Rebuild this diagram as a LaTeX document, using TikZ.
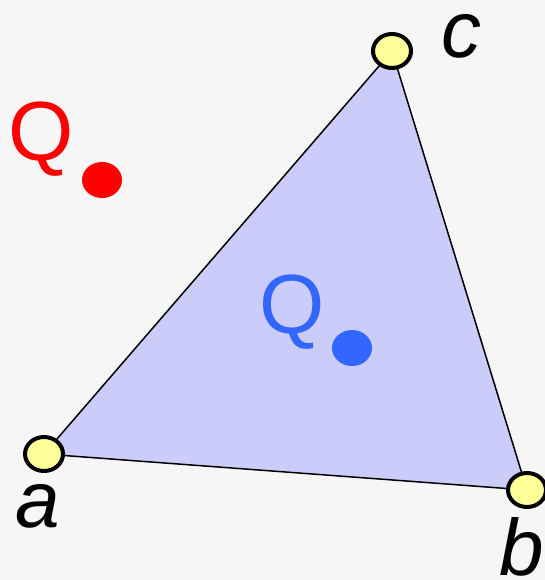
\documentclass[tikz,border=0pt]{standalone}
\usepackage{fontspec}
\setmainfont{Liberation Sans}
\definecolor{bgc}{RGB}{246,246,246}
\definecolor{tri}{RGB}{204,204,250}
\definecolor{vtx}{RGB}{255,255,153}
\definecolor{qred}{RGB}{255,0,0}
\definecolor{qblue}{RGB}{51,102,255}
\begin{document}
\begin{tikzpicture}[x=1pt,y=-1pt,
  vertex/.style={draw=black,line width=4pt,fill=vtx,ellipse,minimum width=38pt,minimum height=34pt,inner sep=0pt},
  lbl/.style={font=\fontsize{80}{80}\itshape\selectfont,inner sep=0pt},
  qlbl/.style={font=\fontsize{84}{84}\selectfont,inner sep=0pt},
  dot/.style={ellipse,minimum width=40pt,minimum height=36pt,inner sep=0pt}]
\usetikzlibrary{shapes.geometric}
\fill[bgc] (0,0) rectangle (545,580);
\useasboundingbox (0,0) rectangle (545,580);
\coordinate (A) at (44,454);
\coordinate (B) at (527,490);
\coordinate (C) at (392,51);
\draw[fill=tri,line width=1.5pt,line join=round] (A) -- (B) -- (C) -- cycle;
\node[vertex] (va) at (A) {};
\node[vertex] (vb) at (B) {};
\node[vertex] (vc) at (C) {};
\node[lbl] (la) at (38,506) {a};
\node[lbl] (lb) at (522,547) {b};
\node[lbl] (lc) at (461,36) {c};
\node[qlbl,text=qred] (qr) at (41,139) {Q};
\node[dot,fill=qred] (dr) at (102,180) {};
\node[qlbl,text=qblue] (qb) at (292,312) {Q};
\node[dot,fill=qblue] (db) at (352,348) {};
\end{tikzpicture}
\end{document}
